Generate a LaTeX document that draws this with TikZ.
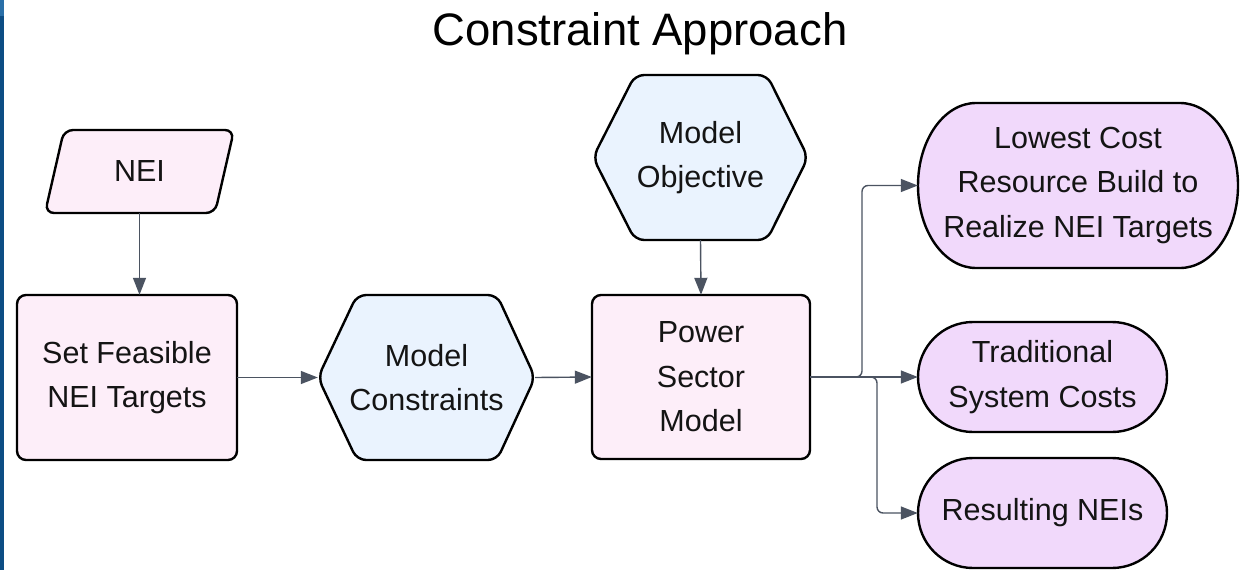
\documentclass[tikz,border=0pt]{standalone}
\usepackage{fontspec}
\setmainfont{Liberation Sans}
\usetikzlibrary{arrows.meta,calc}
\definecolor{pinkfill}{HTML}{FDEEF9}
\definecolor{bluefill}{HTML}{EAF3FE}
\definecolor{lavfill}{HTML}{F1D9FB}
\definecolor{arrowcol}{HTML}{4B5361}
\definecolor{edgeblue}{HTML}{0D4D84}
\definecolor{edgeblue2}{HTML}{2A6FA8}
\begin{document}
\begin{tikzpicture}[x=1pt,y=-1pt,
  font=\fontsize{30.5}{44.5}\selectfont,
  shapeline/.style={draw=black, line width=2.4pt, rounded corners=9pt},
  stadline/.style={draw=black, line width=2.4pt},
  conn/.style={draw=arrowcol, line width=1.4pt, -{Triangle[length=17pt,width=13pt]}, rounded corners=6pt},
  lbl/.style={align=center, inner sep=0pt, text=black!92}]
\useasboundingbox (0,0) rectangle (1241,570);
\fill[white] (0,0) rectangle (1241,570);
\fill[edgeblue] (0,0) rectangle (3.5,570);
\fill[edgeblue2] (0,0) rectangle (3.5,16);

% title
\node[anchor=base, inner sep=0pt, font=\fontsize{45.5}{50}\selectfont] (title) at (640,45) {Constraint Approach};

% shapes
\draw[shapeline, fill=pinkfill] (64,130) -- (234,130) -- (215,213) -- (45,213) -- cycle;
\draw[shapeline, fill=pinkfill] (17,295) rectangle (237,460);
\draw[shapeline, fill=bluefill] (318,377.5) -- (357,295) -- (497,295) -- (535,377.5) -- (497,460) -- (357,460) -- cycle;
\draw[shapeline, fill=pinkfill] (592,295) rectangle (810,459);
\draw[shapeline, fill=bluefill] (593,157.5) -- (635,75) -- (767,75) -- (808,157.5) -- (767,240) -- (635,240) -- cycle;
\draw[stadline, fill=lavfill] (976,103) -- (1180,103) arc[start angle=-90, end angle=90, x radius=58, y radius=82.5] -- (976,268) arc[start angle=90, end angle=270, x radius=58, y radius=82.5] -- cycle;
\draw[stadline, fill=lavfill] (973,322) -- (1112,322) arc[start angle=-90, end angle=90, x radius=55, y radius=55] -- (973,432) arc[start angle=90, end angle=270, x radius=55, y radius=55] -- cycle;
\draw[stadline, fill=lavfill] (973,458) -- (1112,458) arc[start angle=-90, end angle=90, x radius=55, y radius=55] -- (973,568) arc[start angle=90, end angle=270, x radius=55, y radius=55] -- cycle;

% nodes (text)
\node[lbl, minimum width=189pt, minimum height=83pt] (nei) at (139.5,171.5) {NEI};
\node[lbl, minimum width=220pt, minimum height=165pt] (sf) at (127,377.5) {Set Feasible\\NEI Targets};
\node[lbl, minimum width=217pt, minimum height=165pt] (mc) at (426.5,377.5) {Model\\Constraints};
\node[lbl, minimum width=218pt, minimum height=164pt] (ps) at (701,377) {Power\\Sector\\Model};
\node[lbl, minimum width=215pt, minimum height=165pt] (mo) at (700.5,157.5) {Model\\Objective};
\node[lbl, minimum width=320pt, minimum height=165pt] (lc) at (1078,185.5) {Lowest Cost\\Resource Build to\\Realize NEI Targets};
\node[lbl, minimum width=249pt, minimum height=110pt] (tc) at (1042.5,377) {Traditional\\System Costs};
\node[lbl, minimum width=249pt, minimum height=110pt] (rn) at (1042.5,513) {Resulting NEIs};

% connectors
\coordinate (b1) at (862,377);
\coordinate (b2) at (877,377);
\draw[conn] (nei.south) -- (nei.south |- sf.north);
\draw[conn] (sf.east) -- (mc.west);
\draw[conn] (mc.east) -- (ps.west);
\draw[conn] (mo.south) -- (ps.north);
\draw[conn] (ps.east) -- (b1) |- (lc.west);
\draw[conn] (ps.east) -- (tc.west);
\draw[conn] (ps.east) -- (b2) |- (rn.west);
\end{tikzpicture}
\end{document}
